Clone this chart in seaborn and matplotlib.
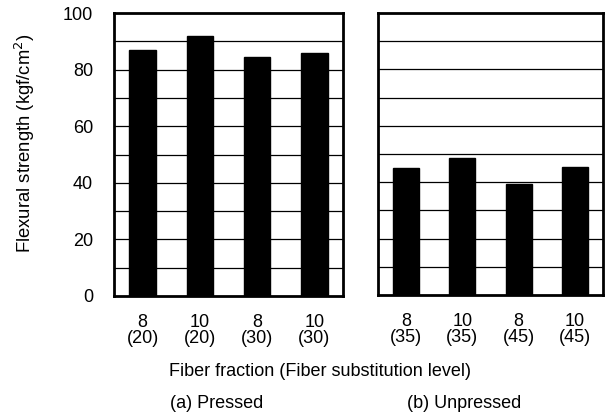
import matplotlib
matplotlib.use("Agg")
import matplotlib.pyplot as plt
import seaborn as sns
import pandas as pd

sns.set_theme(style="white")
plt.rcParams['font.family'] = ['Liberation Sans', 'DejaVu Sans']

pressed_labels = ["8\n(20)", "10\n(20)", "8\n(30)", "10\n(30)"]
pressed_values = [87, 92, 84.5, 86]
unpressed_labels = ["8\n(35)", "10\n(35)", "8\n(45)", "10\n(45)"]
unpressed_values = [45, 48.5, 39.5, 45.5]
y_ticks = [0, 20, 40, 60, 80, 100]
grid_levels = [10, 20, 30, 40, 50, 60, 70, 80, 90]

W, H = 605, 416
fig = plt.figure(figsize=(W / 100, H / 100), dpi=100)

def px_axes(x0, y0, x1, y1):
    return fig.add_axes([x0 / W, (H - y1) / H, (x1 - x0) / W, (y1 - y0) / H])

ax1 = px_axes(114, 13, 343, 296)
ax2 = px_axes(378, 13, 603, 295)

FS = 13

for ax, labels, values in [(ax1, pressed_labels, pressed_values),
                           (ax2, unpressed_labels, unpressed_values)]:
    df = pd.DataFrame({"cat": labels, "val": values})
    sns.barplot(data=df, x="cat", y="val", ax=ax, color="black",
                width=0.46, saturation=1, edgecolor="black", zorder=3)
    ax.set_ylim(0, 100)
    ax.set_xlim(-0.5, 3.5)
    for g in grid_levels:
        ax.axhline(g, color="black", lw=0.9, zorder=1)
    for s in ax.spines.values():
        s.set_visible(True)
        s.set_color("black")
        s.set_linewidth(2.0)
    ax.set_xlabel("")
    ax.set_ylabel("")
    for t in ax.get_xticklabels():
        t.set_linespacing(0.95)
    ax.tick_params(axis="x", length=0, pad=13, labelsize=FS, colors="black")
    ax.tick_params(axis="y", length=0, pad=15, labelsize=FS, colors="black")
    ax.grid(False)

ax1.set_yticks(y_ticks)
ax2.set_yticks([])

fig.text(25 / W, 1 - 143 / H, "Flexural strength (kgf/cm$^2$)", rotation=90,
         ha="center", va="center", fontsize=13.3, color="black")
fig.text(320 / W, 1 - 371 / H, "Fiber fraction (Fiber substitution level)",
         ha="center", va="center", fontsize=FS, color="black")
fig.text(217 / W, 1 - 404 / H, "(a) Pressed", ha="center", va="center",
         fontsize=FS, color="black")
fig.text(464 / W, 1 - 404 / H, "(b) Unpressed", ha="center", va="center",
         fontsize=FS, color="black")

fig.savefig("out.png", dpi=100)
